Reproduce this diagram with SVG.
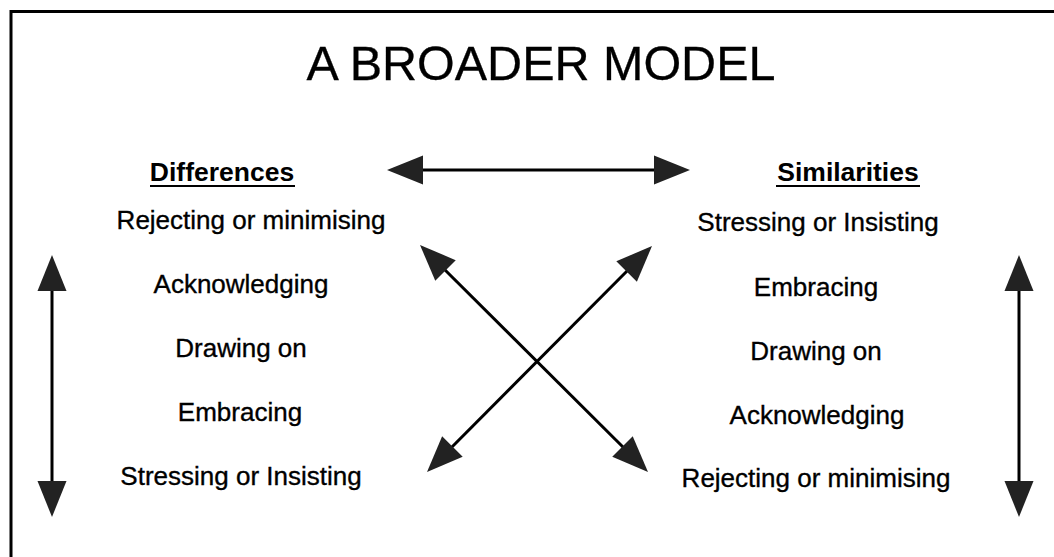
<svg xmlns="http://www.w3.org/2000/svg" width="1054" height="557" viewBox="0 0 1054 557">
  <style>
    text { font-family: "Liberation Sans", Arial, Helvetica, sans-serif; fill: #000; }
    .title { font-size: 48.5px; stroke: #000; stroke-width: 0.3; }
    .head { font-size: 26.5px; font-weight: bold; text-anchor: middle; }
    .item { font-size: 26px; text-anchor: middle; stroke: #000; stroke-width: 0.35; }
    .frame { fill: none; stroke: #000; stroke-width: 3; }
    .ul { stroke: #000; stroke-width: 2; }
    .link { fill: none; stroke: #000; stroke-width: 3; marker-start: url(#head); marker-end: url(#head); }
  </style>
  <defs>
    <!-- filled triangular arrowhead; its base sits on the end of the shaft -->
    <marker id="head" markerUnits="userSpaceOnUse" orient="auto-start-reverse" refX="0" refY="0" markerWidth="40" markerHeight="40" overflow="visible">
      <path d="M-1,-14.5 L35,0 L-1,14.5 Z" fill="#222"/>
    </marker>
  </defs>

  <rect width="1054" height="557" fill="#fff"/>

  <!-- page frame (left and top rules) -->
  <path class="frame" d="M11,557 V11.5 H1054"/>

  <g id="title">
    <text class="title" x="541" y="80" text-anchor="middle">A BROADER MODEL</text>
  </g>

  <g id="differences">
    <text class="head" x="222" y="181">Differences</text>
    <line class="ul" x1="150" y1="186" x2="295" y2="186"/>
    <text class="item" x="251" y="229">Rejecting or minimising</text>
    <text class="item" x="241" y="293">Acknowledging</text>
    <text class="item" x="241" y="357">Drawing on</text>
    <text class="item" x="240" y="421">Embracing</text>
    <text class="item" x="241" y="485">Stressing or Insisting</text>
  </g>

  <g id="similarities">
    <text class="head" x="848" y="181">Similarities</text>
    <line class="ul" x1="776" y1="186" x2="920" y2="186"/>
    <text class="item" x="818" y="231">Stressing or Insisting</text>
    <text class="item" x="816" y="296">Embracing</text>
    <text class="item" x="816" y="360">Drawing on</text>
    <text class="item" x="817" y="424">Acknowledging</text>
    <text class="item" x="816" y="487">Rejecting or minimising</text>
  </g>

  <g id="connectors">
    <!-- Differences <-> Similarities -->
    <line class="link" x1="422" y1="170" x2="655" y2="170"/>
    <!-- left scale -->
    <line class="link" x1="52" y1="290" x2="52" y2="482"/>
    <!-- right scale -->
    <line class="link" x1="1019" y1="290" x2="1019" y2="482"/>
    <!-- crossing arrows -->
    <line class="link" x1="444.8" y1="269.7" x2="623.2" y2="447.3"/>
    <line class="link" x1="627.3" y1="270.8" x2="451.7" y2="447.2"/>
  </g>
</svg>
